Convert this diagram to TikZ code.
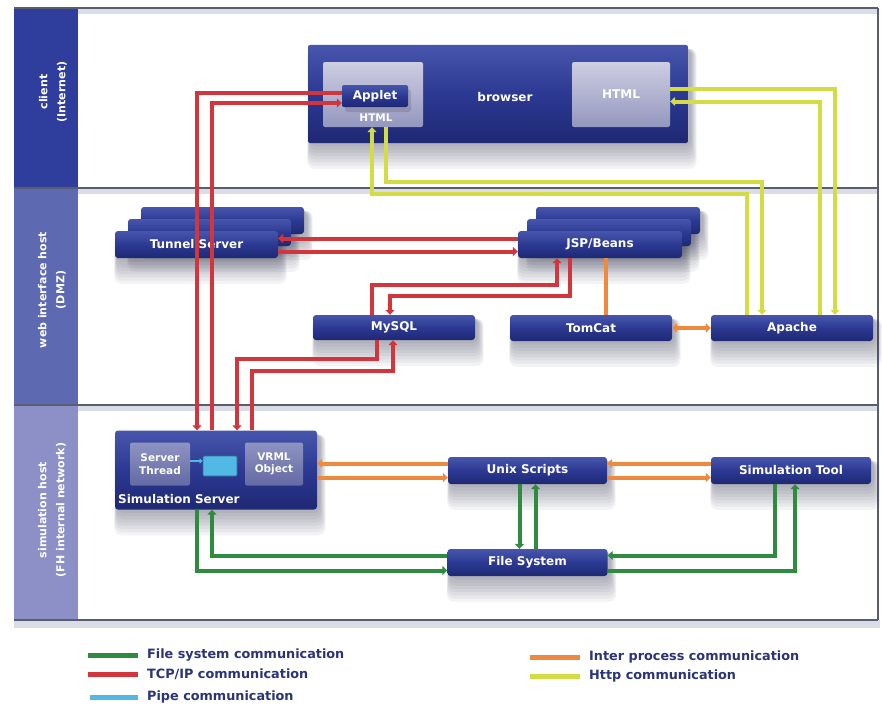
\documentclass[tikz,border=0pt]{standalone}
\usepackage{fontspec}
\setmainfont{DejaVu Sans}
\usetikzlibrary{arrows.meta,calc}

\definecolor{navytop}{HTML}{4756AC}
\definecolor{navymid}{HTML}{2C3992}
\definecolor{navybot}{HTML}{1E2873}
\definecolor{paneltop}{HTML}{CDCEE2}
\definecolor{panelbot}{HTML}{9497BE}
\definecolor{innertop}{HTML}{8F94C2}
\definecolor{innerbot}{HTML}{6369A3}
\definecolor{tcpred}{HTML}{D2353B}
\definecolor{httpyel}{HTML}{D4DC45}
\definecolor{ipcorange}{HTML}{EE8A3E}
\definecolor{fsgreen}{HTML}{2E8B40}
\definecolor{pipecyan}{HTML}{52B9E6}
\definecolor{stripA}{HTML}{2F3E9C}
\definecolor{stripB}{HTML}{5D69B1}
\definecolor{stripC}{HTML}{8C90C6}
\definecolor{rulegrey}{HTML}{5A5D70}
\definecolor{haze}{HTML}{DADCE6}
\definecolor{legendtext}{HTML}{2C3479}
\definecolor{shadowtone}{HTML}{30324A}

\pgfdeclarelayer{frame}
\pgfdeclarelayer{shadow}
\pgfsetlayers{frame,shadow,main}

\begin{document}
\begin{tikzpicture}[x=1pt,y=-1pt,
  >={Triangle[width=9pt,length=5pt]},
  lbl/.style={font=\fontsize{12}{14}\selectfont\bfseries},
  box/.style={lbl, text=white, rounded corners=3pt, inner sep=0pt,
    top color=navytop, bottom color=navybot, middle color=navymid},
  panel/.style={lbl, text=white, rounded corners=2pt, inner sep=0pt,
    top color=paneltop, bottom color=panelbot},
  inner/.style={font=\fontsize{10.5}{12.5}\selectfont\bfseries, text=white,
    align=center, rounded corners=2pt, inner sep=0pt,
    top color=innertop, bottom color=innerbot},
  side/.style={text=white, align=center, rotate=90,
    font=\fontsize{11}{18}\selectfont\bfseries},
  tcp/.style={draw=tcpred, line width=4pt},
  http/.style={draw=httpyel, line width=4pt},
  ipc/.style={draw=ipcorange, line width=4pt},
  fsys/.style={draw=fsgreen, line width=4pt},
  pipe/.style={draw=pipecyan, line width=2pt},
  legline/.style={line width=5pt},
  legtext/.style={anchor=west, text=legendtext, inner sep=0pt,
    font=\fontsize{12.8}{14}\selectfont\bfseries},
  shadowpiece/.style={fill=shadowtone, fill opacity=0.055, rounded corners=7pt},
]
\useasboundingbox (0,0) rectangle (882,709);

% ---- frame with three bands ----
\begin{pgfonlayer}{frame}
\fill[white] (0,0) rectangle (882,709);
\fill[haze] (14,620) rectangle (880,628);
\fill[white] (14,8) rectangle (878,620);
\foreach \y in {8,188,405}{
  \fill[haze] (78,\y) rectangle (878,\y+6);
  \draw[rulegrey, line width=1.2pt] (14,\y) -- (878,\y);
}
\draw[rulegrey, line width=1.2pt] (14,620) -- (878,620);
\draw[rulegrey, line width=1.2pt] (878,8) -- (878,620);
\fill[stripA] (14,8.6) rectangle (78,187.4);
\fill[stripB] (14,188.6) rectangle (78,404.4);
\fill[stripC] (14,405.6) rectangle (78,619.4);
\end{pgfonlayer}

\node[side] (lclient) at (53,92) {client\\(Internet)};
\node[side] (lweb) at (52,290) {web interface host\\(DMZ)};
\node[side] (lsim) at (52,510) {simulation host\\(FH internal network)};

% ---- client ----
\node[box, rounded corners=2pt, minimum width=380pt, minimum height=98pt] (browser) at (498,94) {};
\node[lbl, text=white] (browsertext) at (505,97) {browser};
\node[panel, minimum width=100pt, minimum height=65pt] (panelL) at (373,94.5) {};
\node[lbl, text=white, font=\fontsize{10.5}{12}\selectfont\bfseries] (htmlL) at (376,118) {HTML};
\fill[black, fill opacity=0.12, rounded corners=3pt] (345,89) rectangle (411,112);
\node[box, rounded corners=2pt, minimum width=66pt, minimum height=22pt] (applet) at (375,96) {Applet};
\node[panel, minimum width=98pt, minimum height=65pt] (htmlR) at (621,94.5) {HTML};

% ---- web interface host ----
\node[box, minimum width=163pt, minimum height=27pt] (tunnelC) at (222.5,220.5) {};
\node[box, minimum width=163pt, minimum height=27pt] (tunnelB) at (209.5,232.5) {};
\node[box, minimum width=163pt, minimum height=27pt] (tunnel) at (196.5,244.5) {Tunnel Server};

\node[box, minimum width=164pt, minimum height=27pt] (jspC) at (618,220.5) {};
\node[box, minimum width=164pt, minimum height=27pt] (jspB) at (609,232.5) {};
\node[box, minimum width=164pt, minimum height=27pt] (jsp) at (600,244.5) {JSP/Beans};

\node[box, minimum width=162pt, minimum height=25pt] (mysql) at (394,327.5) {MySQL};
\node[box, minimum width=162pt, minimum height=26pt] (tomcat) at (591,328) {TomCat};
\node[box, minimum width=162pt, minimum height=26pt] (apache) at (792,328) {Apache};

% ---- simulation host ----
\node[box, minimum width=202pt, minimum height=79pt] (simserver) at (216,470) {};
\node[inner, minimum width=60pt, minimum height=43pt] (thread) at (160,464) {Server\\Thread};
\node[inner, minimum width=58pt, minimum height=43pt] (vrml) at (274,464) {VRML\\Object};
\node[draw=pipecyan!60!black, line width=0.8pt, fill=pipecyan, rounded corners=1pt,
  minimum width=34pt, minimum height=20pt, inner sep=0pt] (pipebox) at (220,466) {};
\node[lbl, text=white, anchor=west, inner sep=0pt] (simlabel) at (118,499) {Simulation Server};

\node[box, minimum width=159pt, minimum height=27pt] (unix) at (527.5,470.5) {Unix Scripts};
\node[box, minimum width=160pt, minimum height=27pt] (simtool) at (791,470.5) {Simulation Tool};
\node[box, minimum width=160pt, minimum height=27pt] (fs) at (527.5,562.5) {File System};

% ---- soft shadows under the boxes ----
\begin{pgfonlayer}{shadow}
\foreach \n in {browser,tunnelC,tunnelB,tunnel,jspC,jspB,jsp,mysql,tomcat,apache,
                simserver,unix,simtool,fs}{
  \foreach \k in {1,...,8}{
    \fill[shadowpiece] ($(\n.north west)+(2-0.3*\k,4)$) rectangle ($(\n.south east)+(2+0.8*\k,3.2*\k)$);
  }
}
\end{pgfonlayer}

% ---- TCP/IP links ----
\draw[tcp,->] ($(applet.west)+(0,-3)$) -| ($(simserver.north)+(-19,0)$);
\draw[tcp,->] ($(simserver.north)+(-4,0)$) |- ($(applet.west)+(0,7)$);
\draw[tcp,->] ($(jsp.west)+(0,-6)$) -- ($(tunnel.east)+(0,-6)$);
\draw[tcp,->] ($(tunnel.east)+(0,7)$) -- ($(jsp.west)+(0,7)$);
\draw[tcp,->] ($(mysql.north)+(-22,0)$) |- ($(jsp.south)+(-43,27)$) -- ($(jsp.south)+(-43,0)$);
\draw[tcp,->] ($(jsp.south)+(-30,0)$) |- ($(mysql.north)+(-4,-19)$) -- ($(mysql.north)+(-4,0)$);
\draw[tcp,->] ($(mysql.south)+(-17,0)$) |- ($(simserver.north)+(21,-71)$) -- ($(simserver.north)+(21,0)$);
\draw[tcp,->] ($(simserver.north)+(36,0)$) |- ($(mysql.south)+(-1,31)$) -- ($(mysql.south)+(-1,0)$);

% ---- Http links ----
\draw[http,->] ($(htmlR.east)+(0,-6)$) -| ($(apache.north)+(43,0)$);
\draw[http,->] ($(apache.north)+(28,0)$) |- ($(htmlR.east)+(0,7)$);
\draw[http,->] ($(apache.north)+(-45,0)$) |- ($(panelL.south)+(-1,67)$) -- ($(panelL.south)+(-1,0)$);
\draw[http,->] ($(panelL.south)+(13,0)$) |- ($(apache.north)+(-30,-133)$) -- ($(apache.north)+(-30,0)$);

% ---- inter process links ----
\draw[ipc] ($(jsp.south)+(6,0)$) -- ($(tomcat.north)+(15,0)$);
\draw[ipc,<->] (tomcat.east) -- (apache.west);
\draw[ipc,->] ($(unix.west)+(0,-7)$) -- ($(simserver.east)+(0,-6.5)$);
\draw[ipc,->] ($(simserver.east)+(0,7.5)$) -- ($(unix.west)+(0,7)$);
\draw[ipc,->] ($(simtool.west)+(0,-7)$) -- ($(unix.east)+(0,-7)$);
\draw[ipc,->] ($(unix.east)+(0,7)$) -- ($(simtool.west)+(0,7)$);

% ---- file system links ----
\draw[fsys,->] ($(unix.south)+(-8,0)$) -- ($(fs.north)+(-8,0)$);
\draw[fsys,->] ($(fs.north)+(8,0)$) -- ($(unix.south)+(8,0)$);
\draw[fsys,->] ($(simtool.south)+(-16,0)$) |- ($(fs.east)+(0,-7)$);
\draw[fsys,->] ($(fs.east)+(0,8)$) -| ($(simtool.south)+(4,0)$);
\draw[fsys,->] ($(simserver.south)+(-19,0)$) |- ($(fs.west)+(0,8)$);
\draw[fsys,->] ($(fs.west)+(0,-7)$) -| ($(simserver.south)+(-4,0)$);

% ---- pipe ----
\draw[pipe,-{Triangle[width=5pt,length=3pt]}] ($(thread.east)+(0,-3)$) -- ($(pipebox.west)+(0,-5)$);

% ---- legend ----
\draw[legline, fsgreen] (88,655) -- (138,655);
\node[legtext] (legfs) at (147,655) {File system communication};
\draw[legline, tcpred] (88,674) -- (138,674);
\node[legtext] (legtcp) at (147,674) {TCP/IP communication};
\draw[legline, pipecyan] (90,697) -- (138,697);
\node[legtext] (legpipe) at (147,697) {Pipe communication};
\draw[legline, ipcorange] (530,657) -- (580,657);
\node[legtext] (legipc) at (589,657) {Inter process communication};
\draw[legline, httpyel] (530,676) -- (580,676);
\node[legtext] (leghttp) at (589,676) {Http communication};
\end{tikzpicture}
\end{document}
